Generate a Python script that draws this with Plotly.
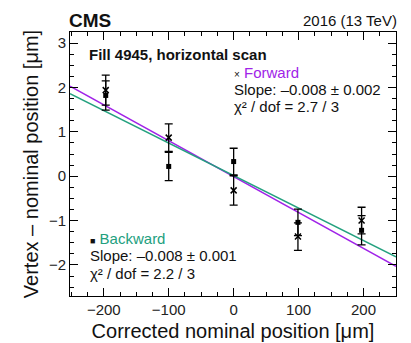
import plotly.graph_objects as go

# nominal positions [um]
fwd_x = [-197, -100, 0, 99, 197]
bwd_x = [-197, -100, 0, 99, 197]

# vertex - nominal [um]
fwd_y = [1.94, 0.87, -0.32, -1.36, -1.00]
fwd_err = [0.34, 0.31, 0.33, 0.31, 0.30]
bwd_y = [1.82, 0.22, 0.33, -1.04, -1.22]
bwd_err = [0.33, 0.32, 0.30, 0.30, 0.33]

# fitted lines, read at the frame edges
fit_x = [-252, 250]
fwd_fit = [2.03, -2.03]
bwd_fit = [1.86, -1.82]

PURPLE = "#A023E8"
GREEN = "#22A07E"
FONT = "Liberation Sans, Arial, sans-serif"

fig = go.Figure()

fig.add_trace(go.Scatter(x=fit_x, y=fwd_fit, mode="lines",
                         line=dict(color=PURPLE, width=1.5)))
fig.add_trace(go.Scatter(x=fit_x, y=bwd_fit, mode="lines",
                         line=dict(color=GREEN, width=1.5)))

fig.add_trace(go.Scatter(
    x=bwd_x, y=bwd_y, mode="markers",
    marker=dict(symbol="square", size=5, color="black"),
    error_y=dict(type="data", array=bwd_err, color="black", thickness=1.3, width=4),
))
fig.add_trace(go.Scatter(
    x=fwd_x, y=fwd_y, mode="markers",
    marker=dict(symbol="x-thin", size=6, line=dict(color="black", width=1.5)),
    error_y=dict(type="data", array=fwd_err, color="black", thickness=1.3, width=4),
))

axis_common = dict(
    showline=True, linecolor="black", linewidth=1, mirror="allticks",
    ticks="inside", ticklen=8, tickcolor="black", tickwidth=1,
    showgrid=False, zeroline=False, automargin=False,
    tickfont=dict(family=FONT, size=15, color="#222"),
)

fig.update_xaxes(
    range=[-252, 250], dtick=100, tickformat="d",
    minor=dict(ticks="inside", dtick=25, ticklen=4, tickcolor="black"),
    title=dict(text="Corrected nominal position [μm]",
               font=dict(family=FONT, size=20, color="#111"), standoff=6),
    **axis_common,
)
fig.update_yaxes(
    range=[-2.7, 3.25], dtick=1,
    minor=dict(ticks="inside", dtick=0.25, ticklen=4, tickcolor="black"),
    title=dict(text="Vertex – nominal position [μm]",
               font=dict(family=FONT, size=20, color="#111"), standoff=4),
    **axis_common,
)

def note(x, y, text, size=15, color="#111", bold=False, xanchor="left"):
    if bold:
        text = "<b>" + text + "</b>"
    fig.add_annotation(x=x, y=y, xref="paper", yref="paper", text=text,
                       showarrow=False, xanchor=xanchor, yanchor="middle",
                       borderpad=0,
                       font=dict(family=FONT, size=size, color=color))

note(-0.005, 1.045, "CMS", size=19, bold=True)
note(1.005, 1.043, "2016 (13 TeV)", size=15, xanchor="right")
note(0.055, 0.915, "Fill 4945, horizontal scan", size=15, bold=True)

note(0.50, 0.845, "<span style='font-size:10px;color:#111'>×</span> Forward", color=PURPLE)
note(0.50, 0.782, "Slope: –0.008 ± 0.002")
note(0.50, 0.718, "χ² / dof = 2.7 / 3")

note(0.058, 0.218, "<span style='font-size:9px;color:#111'>■</span> Backward", color=GREEN)
note(0.058, 0.152, "Slope: –0.008 ± 0.001")
note(0.058, 0.087, "χ² / dof = 2.2 / 3")

fig.update_layout(
    width=411, height=343,
    margin=dict(l=62, r=23, t=24, b=55),
    plot_bgcolor="white", paper_bgcolor="white",
    showlegend=False,
    font=dict(family=FONT),
)

fig.write_html("out.html")
